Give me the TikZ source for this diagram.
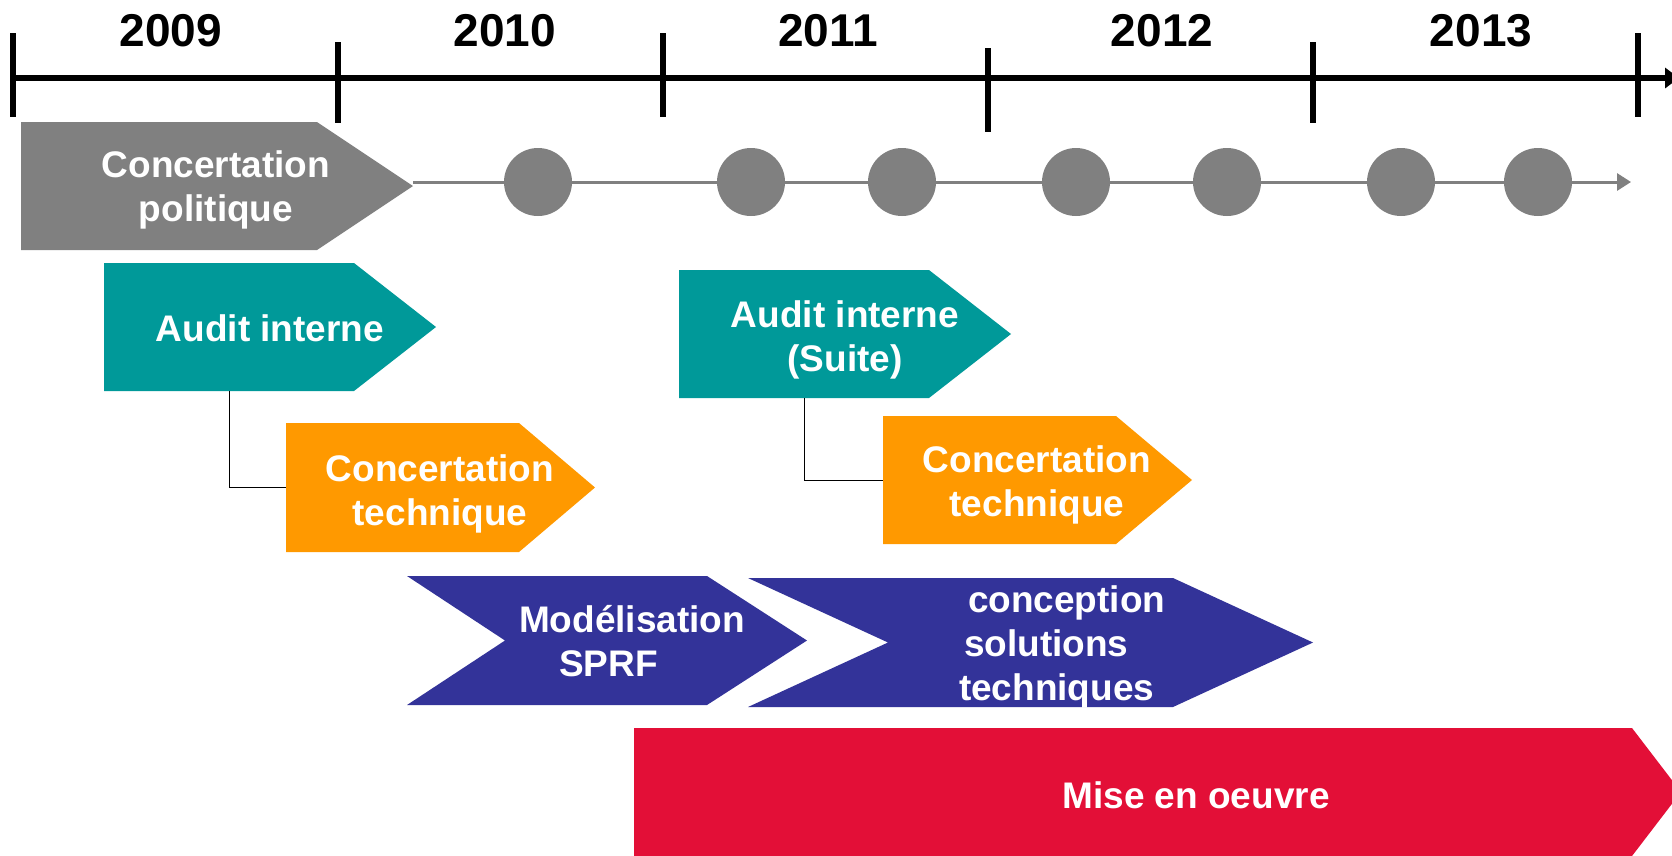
\documentclass[tikz,border=0pt]{standalone}
\usepackage{fontspec}
\setmainfont{Liberation Sans}
\usetikzlibrary{arrows.meta}
\definecolor{cgray}{HTML}{808080}
\definecolor{cteal}{HTML}{009999}
\definecolor{corange}{HTML}{FF9900}
\definecolor{cblue}{HTML}{333399}
\definecolor{cred}{HTML}{E30F37}
\begin{document}
\begin{tikzpicture}[x=1pt,y=-1pt,
  body/.style={inner sep=0pt,outer sep=0pt,draw=none},
  lbl/.style={inner sep=0pt,outer sep=0pt,text=white,align=center,font=\bfseries\fontsize{37}{44}\selectfont},
  year/.style={inner sep=0pt,outer sep=0pt,text=black,font=\bfseries\fontsize{46}{50}\selectfont},
  tickline/.style={line width=6pt,black},
  axisline/.style={line width=6pt,black,-{Triangle[length=14pt,width=20pt]}},
  dot/.style={circle,fill=cgray,draw=none,minimum size=68pt,inner sep=0pt},
  conn/.style={black,line width=1pt},
  track/.style={cgray,line width=3pt,-{Triangle[length=14pt,width=17pt]}}]
\useasboundingbox (0,0) rectangle (1672,855);
\clip (0,0) rectangle (1672,855);
\fill[white] (0,0) rectangle (1672,855);

% time axis
\coordinate (axs) at (10,78);
\coordinate (axe) at (1679,78);
\draw[axisline] (axs) -- (axe);
\draw[tickline] (13,33) -- (13,117);
\draw[tickline] (338,42) -- (338,123);
\draw[tickline] (663,33) -- (663,117);
\draw[tickline] (988,48) -- (988,132);
\draw[tickline] (1313,42) -- (1313,123);
\draw[tickline] (1638,33) -- (1638,117);
\node[year] (y2009) at (171,30.5) {2009};
\node[year] (y2010) at (505,30.5) {2010};
\node[year] (y2011) at (828,30.5) {2011};
\node[year] (y2012) at (1162,30.5) {2012};
\node[year] (y2013) at (1481,30.5) {2013};

% milestone track
\coordinate (trs) at (413,182);
\coordinate (tre) at (1631,182);
\draw[track] (trs) -- (tre);
\foreach \x/\n in {538/1,751/2,902/3,1076/4,1227/5,1401/6,1538/7}
  \node[dot] (m\n) at (\x,182) {};

% Concertation politique
\node[body,minimum width=296pt,minimum height=128pt] (g) at (169,186) {};
\fill[cgray] (g.north west) -- (g.north east) -- (413,186) -- (g.south east) -- (g.south west) -- cycle;
\node[lbl] (gtxt) at (216,189.5) {Concertation\\politique};

% Audit interne
\node[body,minimum width=250pt,minimum height=128pt] (t1) at (229,327) {};
\fill[cteal] (t1.north west) -- (t1.north east) -- (436,327) -- (t1.south east) -- (t1.south west) -- cycle;
\node[lbl] (t1txt) at (270,328.5) {Audit interne};

% Concertation technique 1
\node[body,minimum width=233pt,minimum height=129pt] (o1) at (402.5,487.5) {};
\fill[corange] (o1.north west) -- (o1.north east) -- (595,487.5) -- (o1.south east) -- (o1.south west) -- cycle;
\node[lbl] (o1txt) at (440,493.5) {Concertation\\technique};
\draw[conn] (t1.south) |- (o1.west);

% Audit interne (Suite)
\node[body,minimum width=250pt,minimum height=128pt] (t2) at (804,334) {};
\fill[cteal] (t2.north west) -- (t2.north east) -- (1011,334) -- (t2.south east) -- (t2.south west) -- cycle;
\node[lbl] (t2txt) at (845,339.5) {Audit interne\\(Suite)};

% Concertation technique 2
\node[body,minimum width=233pt,minimum height=128pt] (o2) at (999.5,480) {};
\fill[corange] (o2.north west) -- (o2.north east) -- (1192,480) -- (o2.south east) -- (o2.south west) -- cycle;
\node[lbl] (o2txt) at (1037,484.5) {Concertation\\technique};
\draw[conn] (t2.south) |- (o2.west);

% Modelisation SPRF
\node[body,minimum width=300pt,minimum height=129pt] (b1) at (557,640.5) {};
\fill[cblue] (b1.north west) -- (b1.north east) -- (807,640.5) -- (b1.south east) -- (b1.south west) -- (505,640.5) -- cycle;
\node[lbl,align=left,anchor=west] (b1txt) at (519,641) {Modélisation\\\hspace*{40pt}SPRF};

% conception solutions techniques
\node[body,minimum width=425pt,minimum height=129pt] (b2) at (960.5,642.5) {};
\fill[cblue] (b2.north west) -- (b2.north east) -- (1313,642.5) -- (b2.south east) -- (b2.south west) -- (888,642.5) -- cycle;
\node[lbl,align=left,anchor=west] (b2txt) at (959,647) {\hspace*{9pt}conception\\\hspace*{5pt}solutions\\techniques};

% Mise en oeuvre
\node[body,minimum width=998pt,minimum height=128pt] (r) at (1133,792) {};
\fill[cred] (r.north west) -- (r.north east) -- (1681,792) -- (r.south east) -- (r.south west) -- cycle;
\node[lbl] (rtxt) at (1196,795.5) {Mise en oeuvre};
\end{tikzpicture}
\end{document}
